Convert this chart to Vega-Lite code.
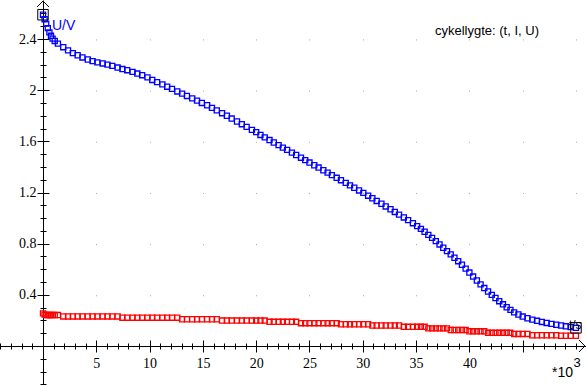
{
  "$schema": "https://vega.github.io/schema/vega-lite/v6.json",
  "width": 586,
  "height": 385,
  "autosize": {"type": "none"},
  "padding": 0,
  "background": "white",
  "config": {
    "view": {"stroke": null},
    "axis": {"labelFont": "Liberation Sans Narrow", "labelFontSize": 14, "labelColor": "black", "labelFlush": false, "labelOverlap": false, "labelBound": false, "tickColor": "black", "tickWidth": 1, "domainColor": "black", "domainWidth": 1, "grid": false, "title": null}
  },
  "data": {"values": [
    {"t": 0, "U": 2.59, "I": 0.255},
    {"t": 0.15, "U": 2.555, "I": 0.245},
    {"t": 0.3, "U": 2.52, "I": 0.242},
    {"t": 0.45, "U": 2.485, "I": 0.242},
    {"t": 0.6, "U": 2.452, "I": 0.242},
    {"t": 0.75, "U": 2.425, "I": 0.242},
    {"t": 0.9, "U": 2.403, "I": 0.242},
    {"t": 1.1, "U": 2.385, "I": 0.242},
    {"t": 1.4, "U": 2.364, "I": 0.242},
    {"t": 1.9, "U": 2.336, "I": 0.231},
    {"t": 2.35, "U": 2.311, "I": 0.231},
    {"t": 2.8, "U": 2.29, "I": 0.231},
    {"t": 3.25, "U": 2.273, "I": 0.231},
    {"t": 3.7, "U": 2.256, "I": 0.231},
    {"t": 4.2, "U": 2.24, "I": 0.231},
    {"t": 4.65, "U": 2.227, "I": 0.231},
    {"t": 5.1, "U": 2.217, "I": 0.231},
    {"t": 5.6, "U": 2.209, "I": 0.231},
    {"t": 6.05, "U": 2.2, "I": 0.231},
    {"t": 6.5, "U": 2.19, "I": 0.231},
    {"t": 7.0, "U": 2.177, "I": 0.231},
    {"t": 7.45, "U": 2.165, "I": 0.221},
    {"t": 7.9, "U": 2.156, "I": 0.221},
    {"t": 8.4, "U": 2.143, "I": 0.221},
    {"t": 8.85, "U": 2.13, "I": 0.221},
    {"t": 9.3, "U": 2.117, "I": 0.221},
    {"t": 9.8, "U": 2.1, "I": 0.221},
    {"t": 10.25, "U": 2.08, "I": 0.221},
    {"t": 10.7, "U": 2.063, "I": 0.221},
    {"t": 11.2, "U": 2.045, "I": 0.221},
    {"t": 11.65, "U": 2.027, "I": 0.221},
    {"t": 12.1, "U": 2.01, "I": 0.221},
    {"t": 12.6, "U": 1.99, "I": 0.221},
    {"t": 13.05, "U": 1.973, "I": 0.209},
    {"t": 13.5, "U": 1.955, "I": 0.209},
    {"t": 14.0, "U": 1.936, "I": 0.209},
    {"t": 14.45, "U": 1.918, "I": 0.209},
    {"t": 14.9, "U": 1.9, "I": 0.209},
    {"t": 15.4, "U": 1.882, "I": 0.209},
    {"t": 15.85, "U": 1.862, "I": 0.209},
    {"t": 16.3, "U": 1.842, "I": 0.209},
    {"t": 16.8, "U": 1.82, "I": 0.199},
    {"t": 17.25, "U": 1.8, "I": 0.199},
    {"t": 17.7, "U": 1.778, "I": 0.199},
    {"t": 18.2, "U": 1.755, "I": 0.199},
    {"t": 18.65, "U": 1.734, "I": 0.199},
    {"t": 19.1, "U": 1.713, "I": 0.199},
    {"t": 19.6, "U": 1.69, "I": 0.199},
    {"t": 20.0, "U": 1.672, "I": 0.199},
    {"t": 20.4, "U": 1.65, "I": 0.199},
    {"t": 20.8, "U": 1.631, "I": 0.199},
    {"t": 21.25, "U": 1.61, "I": 0.189},
    {"t": 21.65, "U": 1.591, "I": 0.189},
    {"t": 22.1, "U": 1.57, "I": 0.189},
    {"t": 22.5, "U": 1.551, "I": 0.189},
    {"t": 22.9, "U": 1.533, "I": 0.189},
    {"t": 23.35, "U": 1.512, "I": 0.189},
    {"t": 23.75, "U": 1.493, "I": 0.189},
    {"t": 24.2, "U": 1.472, "I": 0.178},
    {"t": 24.6, "U": 1.453, "I": 0.178},
    {"t": 25.0, "U": 1.434, "I": 0.178},
    {"t": 25.45, "U": 1.413, "I": 0.178},
    {"t": 25.85, "U": 1.395, "I": 0.178},
    {"t": 26.3, "U": 1.374, "I": 0.178},
    {"t": 26.7, "U": 1.355, "I": 0.178},
    {"t": 27.1, "U": 1.336, "I": 0.178},
    {"t": 27.55, "U": 1.315, "I": 0.178},
    {"t": 27.95, "U": 1.296, "I": 0.17},
    {"t": 28.4, "U": 1.275, "I": 0.17},
    {"t": 28.8, "U": 1.256, "I": 0.17},
    {"t": 29.2, "U": 1.237, "I": 0.17},
    {"t": 29.65, "U": 1.216, "I": 0.17},
    {"t": 30.05, "U": 1.197, "I": 0.17},
    {"t": 30.5, "U": 1.175, "I": 0.17},
    {"t": 30.9, "U": 1.155, "I": 0.16},
    {"t": 31.3, "U": 1.134, "I": 0.16},
    {"t": 31.75, "U": 1.112, "I": 0.16},
    {"t": 32.15, "U": 1.091, "I": 0.16},
    {"t": 32.6, "U": 1.069, "I": 0.16},
    {"t": 33.0, "U": 1.048, "I": 0.16},
    {"t": 33.4, "U": 1.027, "I": 0.16},
    {"t": 33.85, "U": 1.005, "I": 0.15},
    {"t": 34.25, "U": 0.984, "I": 0.15},
    {"t": 34.7, "U": 0.96, "I": 0.15},
    {"t": 35.1, "U": 0.937, "I": 0.15},
    {"t": 35.45, "U": 0.916, "I": 0.15},
    {"t": 35.8, "U": 0.893, "I": 0.15},
    {"t": 36.15, "U": 0.869, "I": 0.138},
    {"t": 36.5, "U": 0.845, "I": 0.138},
    {"t": 36.85, "U": 0.82, "I": 0.138},
    {"t": 37.2, "U": 0.794, "I": 0.138},
    {"t": 37.55, "U": 0.768, "I": 0.138},
    {"t": 37.9, "U": 0.742, "I": 0.138},
    {"t": 38.25, "U": 0.716, "I": 0.125},
    {"t": 38.6, "U": 0.69, "I": 0.125},
    {"t": 38.95, "U": 0.663, "I": 0.125},
    {"t": 39.3, "U": 0.635, "I": 0.125},
    {"t": 39.65, "U": 0.605, "I": 0.125},
    {"t": 40.0, "U": 0.574, "I": 0.115},
    {"t": 40.35, "U": 0.543, "I": 0.115},
    {"t": 40.7, "U": 0.512, "I": 0.115},
    {"t": 41.05, "U": 0.482, "I": 0.115},
    {"t": 41.4, "U": 0.453, "I": 0.115},
    {"t": 41.75, "U": 0.426, "I": 0.103},
    {"t": 42.1, "U": 0.4, "I": 0.103},
    {"t": 42.45, "U": 0.375, "I": 0.103},
    {"t": 42.8, "U": 0.35, "I": 0.103},
    {"t": 43.15, "U": 0.326, "I": 0.103},
    {"t": 43.5, "U": 0.303, "I": 0.103},
    {"t": 43.85, "U": 0.282, "I": 0.103},
    {"t": 44.2, "U": 0.263, "I": 0.094},
    {"t": 44.6, "U": 0.246, "I": 0.094},
    {"t": 45.0, "U": 0.23, "I": 0.094},
    {"t": 45.45, "U": 0.217, "I": 0.094},
    {"t": 45.9, "U": 0.206, "I": 0.084},
    {"t": 46.35, "U": 0.197, "I": 0.084},
    {"t": 46.8, "U": 0.188, "I": 0.084},
    {"t": 47.25, "U": 0.18, "I": 0.084},
    {"t": 47.7, "U": 0.173, "I": 0.084},
    {"t": 48.15, "U": 0.166, "I": 0.084},
    {"t": 48.6, "U": 0.16, "I": 0.08},
    {"t": 49.05, "U": 0.154, "I": 0.08},
    {"t": 49.5, "U": 0.148, "I": 0.08},
    {"t": 50.0, "U": 0.142, "I": 0.08}
  ]},
  "resolve": {"axis": {"x": "independent", "y": "independent"}},
  "layer": [
    {
      "mark": {"type": "point", "shape": "square", "filled": false, "size": 26, "strokeWidth": 1.3, "color": "#ff0000", "opacity": 1},
      "encoding": {
        "x": {"field": "t", "type": "quantitative", "scale": {"domain": [-4.034, 50.94], "nice": false, "zero": false},
          "axis": {"orient": "bottom", "offset": -45, "values": [5, 10, 15, 20, 25, 30, 35, 40, 45], "domain": false, "labels": false, "ticks": true, "tickSize": 12}},
        "y": {"field": "I", "type": "quantitative", "scale": {"domain": [-0.305, 2.705], "nice": false, "zero": false},
          "axis": {"orient": "left", "offset": -49, "values": [0.4, 0.8, 1.2, 1.6, 2, 2.4], "domain": false, "labels": false, "ticks": true, "tickSize": 12}}
      }
    },
    {
      "mark": {"type": "point", "shape": "square", "filled": false, "size": 26, "strokeWidth": 1.3, "color": "#0000ff", "opacity": 1},
      "encoding": {
        "x": {"field": "t", "type": "quantitative", "scale": {"domain": [-4.034, 50.94], "nice": false, "zero": false},
          "axis": {"orient": "bottom", "offset": -39, "values": [5, 10, 15, 20, 25, 30, 35, 40, 45, 50], "format": "~g", "labelExpr": "datum.value > 42 ? '' : datum.label", "ticks": false, "tickSize": 0, "labelPadding": 10, "grid": true, "gridColor": "#a8a8a8", "gridWidth": 1, "gridDash": [1, 50.16], "gridDashOffset": 12.2}},
        "y": {"field": "U", "type": "quantitative", "scale": {"domain": [-0.305, 2.705], "nice": false, "zero": false},
          "axis": {"orient": "left", "offset": -43, "values": [0.4, 0.8, 1.2, 1.6, 2, 2.4], "format": "~g", "ticks": false, "tickSize": 0, "labelPadding": 7}}
      }
    },
    {
      "transform": [{"filter": "datum.t == 0 || datum.t == 50"}],
      "mark": {"type": "point", "shape": "square", "filled": false, "size": 110, "strokeWidth": 1, "color": "black", "opacity": 1},
      "encoding": {
        "x": {"field": "t", "type": "quantitative", "scale": {"domain": [-4.034, 50.94], "nice": false, "zero": false},
          "axis": {"orient": "bottom", "offset": -42, "values": [-4, -3, -2, -1, 1, 2, 3, 4, 6, 7, 8, 9, 11, 12, 13, 14, 16, 17, 18, 19, 21, 22, 23, 24, 26, 27, 28, 29, 31, 32, 33, 34, 36, 37, 38, 39, 41, 42, 43, 44, 46, 47, 48, 49, 50], "domain": false, "labels": false, "ticks": true, "tickSize": 6}},
        "y": {"field": "U", "type": "quantitative", "scale": {"domain": [-0.305, 2.705], "nice": false, "zero": false},
          "axis": {"orient": "left", "offset": -46, "values": [-0.3, -0.2, -0.1, 0.1, 0.2, 0.3, 0.5, 0.6, 0.7, 0.9, 1.0, 1.1, 1.3, 1.4, 1.5, 1.7, 1.8, 1.9, 2.1, 2.2, 2.3, 2.5, 2.6], "domain": false, "labels": false, "ticks": true, "tickSize": 6}}
      }
    },
    {
      "data": {"values": [{}]},
      "mark": {"type": "text", "text": "U/V", "align": "left", "baseline": "alphabetic", "font": "Liberation Sans", "fontSize": 14, "color": "#0000ff"},
      "encoding": {
        "x": {"datum": 0.84, "type": "quantitative", "scale": {"domain": [-4.034, 50.94], "nice": false, "zero": false}, "axis": null},
        "y": {"datum": 2.474, "type": "quantitative", "scale": {"domain": [-0.305, 2.705], "nice": false, "zero": false}, "axis": null}
      }
    },
    {
      "data": {"values": [{}]},
      "mark": {"type": "text", "text": "cykellygte: (t, I, U)", "align": "left", "baseline": "alphabetic", "font": "Liberation Sans", "fontSize": 13, "color": "black"},
      "encoding": {
        "x": {"datum": 36.77, "type": "quantitative", "scale": {"domain": [-4.034, 50.94], "nice": false, "zero": false}, "axis": null},
        "y": {"datum": 2.431, "type": "quantitative", "scale": {"domain": [-0.305, 2.705], "nice": false, "zero": false}, "axis": null}
      }
    },
    {
      "data": {"values": [{}]},
      "mark": {"type": "text", "text": "t/s", "align": "left", "baseline": "alphabetic", "font": "Liberation Sans", "fontSize": 12, "color": "black"},
      "encoding": {
        "x": {"datum": 49.34, "type": "quantitative", "scale": {"domain": [-4.034, 50.94], "nice": false, "zero": false}, "axis": null},
        "y": {"datum": 0.133, "type": "quantitative", "scale": {"domain": [-0.305, 2.705], "nice": false, "zero": false}, "axis": null}
      }
    },
    {
      "data": {"values": [{}]},
      "mark": {"type": "text", "text": "*10", "align": "right", "baseline": "alphabetic", "font": "Liberation Sans", "fontSize": 14, "color": "black"},
      "encoding": {
        "x": {"datum": 49.72, "type": "quantitative", "scale": {"domain": [-4.034, 50.94], "nice": false, "zero": false}, "axis": null},
        "y": {"datum": -0.242, "type": "quantitative", "scale": {"domain": [-0.305, 2.705], "nice": false, "zero": false}, "axis": null}
      }
    },
    {
      "data": {"values": [{}]},
      "mark": {"type": "text", "text": "3", "align": "left", "baseline": "alphabetic", "font": "Liberation Sans", "fontSize": 13, "color": "black"},
      "encoding": {
        "x": {"datum": 49.76, "type": "quantitative", "scale": {"domain": [-4.034, 50.94], "nice": false, "zero": false}, "axis": null},
        "y": {"datum": -0.168, "type": "quantitative", "scale": {"domain": [-0.305, 2.705], "nice": false, "zero": false}, "axis": null}
      }
    },
    {
      "data": {"values": [{}]},
      "mark": {"type": "point", "shape": "M-1,-1L0,0L-1,1", "filled": false, "size": 144, "strokeWidth": 1, "color": "black", "opacity": 1},
      "encoding": {
        "x": {"datum": 50.84, "type": "quantitative", "scale": {"domain": [-4.034, 50.94], "nice": false, "zero": false}, "axis": null},
        "y": {"datum": 0, "type": "quantitative", "scale": {"domain": [-0.305, 2.705], "nice": false, "zero": false}, "axis": null}
      }
    },
    {
      "data": {"values": [{}]},
      "mark": {"type": "point", "shape": "M-1,1L0,0L1,1", "filled": false, "size": 144, "strokeWidth": 1, "color": "black", "opacity": 1},
      "encoding": {
        "x": {"datum": 0, "type": "quantitative", "scale": {"domain": [-4.034, 50.94], "nice": false, "zero": false}, "axis": null},
        "y": {"datum": 2.697, "type": "quantitative", "scale": {"domain": [-0.305, 2.705], "nice": false, "zero": false}, "axis": null}
      }
    }
  ]
}
